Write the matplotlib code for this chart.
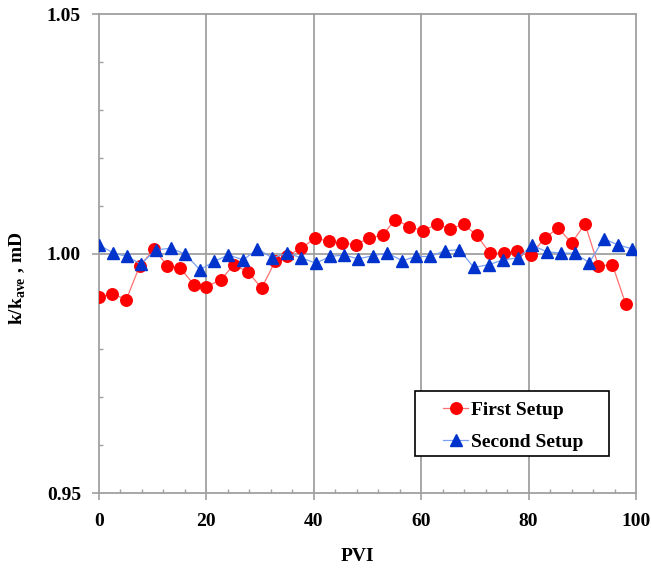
import matplotlib.pyplot as plt
from matplotlib.ticker import MultipleLocator
from matplotlib.patches import Rectangle

plt.rcParams['font.family'] = 'Liberation Serif'
plt.rcParams['font.weight'] = 'bold'
plt.rcParams['mathtext.fontset'] = 'custom'
plt.rcParams['mathtext.rm'] = 'Liberation Serif:bold'

# first setup
pvi1 = [0, 2.5, 5.1, 7.6, 10.3, 12.7, 15.1, 17.7, 20.0, 22.7, 25.1, 27.7, 30.3, 32.8,
        35.1, 37.7, 40.2, 42.8, 45.3, 47.8, 50.3, 52.8, 55.2, 57.8, 60.3, 62.9, 65.4,
        67.9, 70.3, 72.8, 75.4, 77.9, 80.4, 83.0, 85.5, 88.0, 90.5, 93.0, 95.6, 98.1]
k1 = [0.9909, 0.9916, 0.9904, 0.9975, 1.0009, 0.9975, 0.9970, 0.9935, 0.9931, 0.9945,
      0.9977, 0.9962, 0.9928, 0.9984, 0.9996, 1.0011, 1.0032, 1.0026, 1.0022, 1.0019,
      1.0032, 1.0039, 1.0071, 1.0056, 1.0048, 1.0061, 1.0052, 1.0061, 1.0039, 1.0001,
      1.0001, 1.0005, 0.9998, 1.0032, 1.0054, 1.0022, 1.0062, 0.9974, 0.9977, 0.9894]

# second setup
pvi2 = [0, 2.7, 5.3, 7.8, 10.6, 13.4, 16.1, 18.8, 21.5, 24.1, 26.9, 29.5, 32.3, 35.1,
        37.7, 40.4, 43.0, 45.6, 48.3, 51.1, 53.7, 56.5, 59.0, 61.7, 64.4, 67.1, 69.8,
        72.6, 75.3, 78.0, 80.7, 83.4, 86.0, 88.6, 91.3, 94.0, 96.7, 99.3]
k2 = [1.0018, 1.0001, 0.9994, 0.9978, 1.0008, 1.0011, 0.9999, 0.9966, 0.9984, 0.9997,
      0.9987, 1.0010, 0.9991, 1.0001, 0.9991, 0.9980, 0.9994, 0.9997, 0.9989, 0.9996,
      1.0001, 0.9985, 0.9994, 0.9994, 1.0006, 1.0008, 0.9971, 0.9977, 0.9987, 0.9991,
      1.0017, 1.0004, 1.0001, 1.0001, 0.9981, 1.0031, 1.0018, 1.0010]

fig = plt.figure(figsize=(6.51, 5.68), dpi=100)
ax = fig.add_axes([0.152, 0.132, 0.825, 0.843])

grid_c = '#a0a0a0'
for xv in [20, 40, 60, 80, 100]:
    ax.axvline(xv, color=grid_c, lw=1.3, zorder=0, clip_on=False)
for yv in [1.0, 1.05]:
    ax.axhline(yv, color=grid_c, lw=1.3, zorder=0, clip_on=False)

ax.plot(pvi1, k1, color='#ff7070', lw=0.9, marker='o', ms=8.3,
        mfc='#ff0000', mec='#ff0000', label='First Setup', zorder=3)
ax.plot(pvi2, k2, color='#7aa0f0', lw=0.9, marker='^', ms=8.3,
        mfc='#0033cc', mec='#0033cc', label='Second Setup', zorder=4)

ax.set_xlim(0, 100)
ax.set_ylim(0.95, 1.05)
ax.set_xticks([0, 20, 40, 60, 80, 100])
ax.set_yticks([0.95, 1.00, 1.05])
ax.set_yticklabels(['0.95', '1.00', '1.05'])
ax.xaxis.set_minor_locator(MultipleLocator(4))
ax.yaxis.set_minor_locator(MultipleLocator(0.01))

for s in ['top', 'right']:
    ax.spines[s].set_visible(False)
for s in ['left', 'bottom']:
    ax.spines[s].set_color(grid_c)
    ax.spines[s].set_linewidth(1.3)

ax.tick_params(which='major', direction='out', length=5, width=1.2,
               color=grid_c, labelsize=14)
ax.tick_params(which='minor', direction='in', length=3, width=1,
               color=grid_c)
ax.tick_params(axis='x', which='major', pad=9.5)
ax.tick_params(axis='y', which='major', pad=8)

ax.set_xlabel('PVI', fontsize=14, fontweight='bold')
ax.xaxis.set_label_coords(0.481, -0.114)
ax.set_ylabel(r'k/k$_{\mathrm{ave}}$ , mD', fontsize=14, fontweight='bold')
ax.yaxis.set_label_coords(-0.132, 0.449)

# legend box
ax.add_patch(Rectangle((0.5885, 0.0772), 0.3612, 0.1357, transform=ax.transAxes,
                       facecolor='white', edgecolor='black', lw=1.2, zorder=5))
leg = ax.legend(loc='upper left', bbox_to_anchor=(0.6406, 0.192), fontsize=14,
                frameon=False, handlelength=1.3, handletextpad=0.15,
                borderpad=0, borderaxespad=0, labelspacing=0.75)
leg.set_zorder(6)

fig.savefig('out.png', dpi=100)
